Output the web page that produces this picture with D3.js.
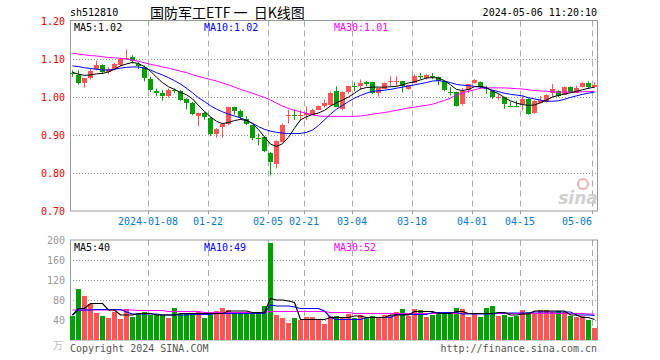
<!DOCTYPE html>
<html>
<head>
<meta charset="utf-8">
<script src="https://cdn.jsdelivr.net/npm/d3@7"></script>
<style>
  html, body { margin: 0; padding: 0; background: #fff; }
  svg text { font-family: "DejaVu Sans Mono", monospace; font-size: 10px; }
</style>
</head>
<body>
<div id="chart"></div>
<script>
// daily candles, 2023-12-19 .. 2024-05-06 (88 trading days)
const open  = [1.064,1.059,1.036,1.049,1.074,1.085,1.066,1.074,1.083,1.101,1.105,1.088,1.079,1.048,1.017,1.011,1.002,1.019,1.017,0.996,
               0.985,0.952,0.959,0.946,0.901,0.922,0.928,0.973,0.962,0.941,0.925,0.891,0.895,0.852,0.823,0.882,0.950,0.953,0.951,0.953,
               0.955,0.967,0.975,0.980,1.016,0.969,1.015,1.030,1.031,1.039,1.039,1.011,1.022,1.039,1.040,1.042,1.021,1.037,1.056,1.049,
               1.056,1.053,1.042,1.013,1.013,0.980,1.018,1.037,1.040,1.025,1.016,1.000,1.000,0.976,0.976,0.981,0.996,0.958,0.985,0.987,
               1.011,1.016,1.006,1.026,1.012,1.027,1.036,1.025];
const high  = [1.070,1.070,1.050,1.075,1.096,1.086,1.079,1.090,1.103,1.125,1.110,1.092,1.083,1.053,1.022,1.018,1.022,1.022,1.018,0.997,
               0.987,0.959,0.961,0.947,0.918,0.930,0.975,0.975,0.967,0.950,0.926,0.904,0.896,0.855,0.886,0.930,0.967,0.967,0.965,0.975,
               0.969,0.978,0.993,1.014,1.028,1.015,1.030,1.038,1.046,1.042,1.040,1.025,1.038,1.054,1.054,1.042,1.032,1.059,1.063,1.060,
               1.063,1.054,1.043,1.026,1.014,1.024,1.035,1.047,1.041,1.030,1.018,1.008,1.001,0.988,0.990,1.004,0.997,0.992,1.002,1.007,
               1.034,1.018,1.028,1.028,1.030,1.040,1.041,1.039];
const low   = [1.053,1.033,1.025,1.046,1.070,1.061,1.060,1.070,1.080,1.097,1.088,1.073,1.041,1.013,1.002,0.991,0.998,1.010,0.990,0.967,
               0.952,0.923,0.940,0.897,0.893,0.893,0.926,0.953,0.940,0.926,0.886,0.873,0.855,0.794,0.812,0.880,0.930,0.939,0.937,0.939,
               0.952,0.965,0.972,0.977,0.973,0.965,1.008,1.015,1.019,1.028,1.008,1.001,1.021,1.028,1.028,1.012,1.019,1.036,1.047,1.046,
               1.047,1.031,1.015,1.004,0.975,0.978,1.010,1.035,1.022,1.008,0.995,0.991,0.969,0.973,0.973,0.965,0.954,0.956,0.983,0.985,
               1.000,1.000,1.005,1.012,1.011,1.025,1.021,1.023];
const close = [1.063,1.038,1.050,1.068,1.085,1.066,1.075,1.086,1.099,1.103,1.095,1.082,1.049,1.018,1.013,1.004,1.019,1.016,0.994,0.985,
               0.956,0.959,0.948,0.904,0.915,0.930,0.974,0.962,0.946,0.928,0.891,0.889,0.857,0.828,0.883,0.927,0.952,0.952,0.953,0.958,
               0.967,0.977,0.983,1.011,0.975,1.014,1.030,1.028,1.038,1.033,1.010,1.024,1.038,1.041,1.042,1.028,1.031,1.056,1.054,1.057,
               1.054,1.042,1.018,1.011,0.977,1.015,1.035,1.044,1.027,1.024,1.000,1.001,0.982,0.975,0.975,0.994,0.956,0.989,0.992,1.006,
               1.022,1.004,1.027,1.014,1.025,1.038,1.025,1.031];
// volume, 万手
const volume = [48,102,88,72,54,48,44,56,42,62,46,52,56,50,50,50,44,64,52,54,
                52,56,44,50,58,64,60,54,52,56,54,52,68,194,50,44,34,44,40,46,
                46,42,32,48,48,46,52,44,50,44,48,44,50,50,56,62,48,62,60,46,
                50,56,54,56,64,62,46,54,46,64,68,48,50,46,48,60,56,52,60,60,
                56,58,56,48,46,48,40,24];

// moving averages as drawn on the chart
const ma5  = [1.065,1.060,1.057,1.058,1.061,1.062,1.066,1.073,1.082,1.087,1.091,1.088,1.080,1.068,1.052,1.038,1.027,1.020,1.012,1.006,
              0.995,0.978,0.962,0.948,0.936,0.930,0.933,0.938,0.941,0.938,0.930,0.914,0.895,0.876,0.870,0.877,0.894,0.918,0.940,0.948,
              0.954,0.958,0.965,0.976,0.985,0.992,1.000,1.010,1.021,1.025,1.026,1.026,1.026,1.027,1.028,1.032,1.037,1.040,1.045,1.050,
              1.051,1.050,1.043,1.032,1.020,1.017,1.020,1.027,1.028,1.025,1.015,1.009,0.998,0.990,0.984,0.980,0.978,0.979,0.985,0.992,
              1.000,1.004,1.008,1.011,1.015,1.019,1.023,1.026];
const ma10 = [1.082,1.080,1.077,1.075,1.073,1.071,1.071,1.073,1.076,1.078,1.079,1.079,1.076,1.071,1.064,1.058,1.051,1.043,1.034,1.023,
              1.011,0.998,0.988,0.977,0.968,0.961,0.955,0.950,0.945,0.939,0.931,0.922,0.915,0.910,0.907,0.905,0.904,0.904,0.904,0.907,
              0.913,0.925,0.940,0.955,0.968,0.978,0.988,0.997,1.004,1.010,1.015,1.016,1.018,1.020,1.023,1.026,1.029,1.032,1.035,1.038,
              1.042,1.043,1.041,1.038,1.033,1.031,1.030,1.028,1.026,1.023,1.018,1.014,1.010,1.007,1.005,1.003,0.998,0.995,0.992,0.989,
              0.989,0.990,0.994,0.999,1.003,1.007,1.010,1.013];
const ma30 = [1.115,1.113,1.111,1.109,1.108,1.106,1.104,1.103,1.102,1.100,1.097,1.094,1.090,1.086,1.083,1.079,1.076,1.072,1.068,1.064,
              1.059,1.054,1.050,1.046,1.042,1.037,1.032,1.026,1.020,1.015,1.010,1.004,0.999,0.992,0.984,0.976,0.970,0.965,0.961,0.957,
              0.953,0.950,0.949,0.949,0.949,0.949,0.949,0.949,0.950,0.952,0.955,0.957,0.959,0.962,0.965,0.968,0.971,0.973,0.976,0.978,
              0.981,0.986,0.991,0.997,1.005,1.011,1.015,1.019,1.023,1.024,1.024,1.024,1.024,1.023,1.022,1.021,1.019,1.017,1.016,1.015,
              1.014,1.013,1.013,1.013,1.013,1.014,1.014,1.015];
const vma5  = [50,63,63,73,73,73,60,60,50,50,50,53,53,53,50,50,50,50,53,53,
               53,53,53,53,53,53,58,58,58,58,55,55,55,83,80,80,78,75,41,41,
               41,41,41,45,45,45,45,48,48,45,45,45,45,50,50,50,50,57,57,57,
               57,53,53,53,57,57,53,53,53,53,53,55,55,50,50,52,52,58,58,58,
               58,58,58,50,50,45,45,41];
const vma10 = [50,60,60,60,61,61,61,61,61,56,52,52,52,52,52,50,50,50,50,50,
               51,51,51,51,53,53,53,53,53,53,53,53,53,70,68,68,68,66,63,63,
               63,63,58,45,41,41,41,41,41,45,45,45,45,45,51,51,51,51,51,51,
               55,55,55,55,55,52,52,52,52,52,52,54,54,54,54,54,54,56,56,56,
               56,56,56,56,50,50,50,49];
const vma30 = [60,60,60,60,60,60,60,60,60,60,60,59,59,59,59,59,57,57,57,57,
               57,57,55,55,55,55,55,55,55,55,55,55,55,57,57,57,57,57,57,57,
               57,57,57,55,55,55,55,53,53,53,53,53,53,53,53,53,53,53,53,53,
               53,53,53,53,53,53,53,53,53,53,53,53,53,53,53,53,53,53,53,53,
               53,53,53,53,53,53,52,52];

const dateTickIdx    = [13, 23, 33, 39, 47, 57, 67, 75, 87];
const dateTickLabels = ["2024-01-08", "01-22", "02-05", "02-21", "03-04", "03-18", "04-01", "04-15", "05-06"];
const priceTicks = [1.20, 1.10, 1.00, 0.90, 0.80, 0.70];
const volTicks   = [200, 160, 120, 80, 40];

const RED = "#ff5454", GREEN = "#00a000";
const W = 660, H = 360;
const left = 70, right = 598;
const pTop = 21, pBottom = 211;
const vTop = 240, vBottom = 340;

const svg = d3.select("#chart").append("svg")
  .attr("width", W)
  .attr("height", H);

const x = d3.scaleBand()
  .domain(d3.range(close.length))
  .range([left, right]);
const yP = d3.scaleLinear().domain([0.70, 1.20]).range([pBottom, pTop]);
const yV = d3.scaleLinear().domain([0, 200]).range([vBottom, vTop]);
const cx = i => x(i) + 2.5;

// header
svg.append("text").attr("x", 70).attr("y", 16).text("sh512810");
svg.append("text").attr("x", 150).attr("y", 18)
  .style("font-family", "'Noto Sans CJK SC'")
  .style("font-size", "14px")
  .attr("xml:space", "preserve")
  .style("white-space", "pre")
  .text("国防军工ETF 一  日K线图");
svg.append("text").attr("x", 597).attr("y", 16)
  .attr("text-anchor", "end")
  .text("2024-05-06 11:20:10");

// grid lines
function hGrid(scale, ticks) {
  svg.append("g").selectAll("line")
    .data(ticks)
    .enter().append("line")
    .attr("x1", left).attr("x2", right)
    .attr("y1", d => Math.round(scale(d)) + 0.5)
    .attr("y2", d => Math.round(scale(d)) + 0.5)
    .attr("stroke", "#999")
    .attr("stroke-dasharray", "1,2");
}
hGrid(yP, priceTicks.slice(1, -1));
hGrid(yV, volTicks.slice(1));

[[pTop - 0.5, pBottom], [vTop, vBottom]].forEach(([t, b]) => {
  svg.append("g").selectAll("line")
    .data(dateTickIdx)
    .enter().append("line")
    .attr("x1", d => x(d) + 0.5).attr("x2", d => x(d) + 0.5)
    .attr("y1", t).attr("y2", b)
    .attr("stroke", "#aaa")
    .attr("stroke-dasharray", "6,4");
});

// frames
[[pTop - 0.5, pBottom], [vTop, vBottom]].forEach(([t, b]) => {
  svg.append("rect")
    .attr("x", left + 0.5).attr("y", t)
    .attr("width", right - left - 1).attr("height", b - t)
    .attr("fill", "none")
    .attr("stroke", "#999");
});

// price axis labels
svg.append("g").selectAll("text")
  .data(priceTicks)
  .enter().append("text")
  .attr("x", 65).attr("y", d => yP(d) + 4)
  .attr("text-anchor", "end")
  .attr("fill", "#f00000")
  .text(d => d.toFixed(2));

svg.append("g").selectAll("text")
  .data(volTicks)
  .enter().append("text")
  .attr("x", 65).attr("y", d => yV(d) + 4)
  .attr("text-anchor", "end")
  .attr("fill", "#999")
  .text(d => d);

svg.append("text").attr("x", 63).attr("y", 349)
  .attr("text-anchor", "end")
  .attr("fill", "#bbb")
  .style("font-family", "'Noto Sans CJK SC'")
  .style("font-size", "10px")
  .text("万");

// date axis
const dateAxis = svg.append("g");
dateAxis.selectAll("line")
  .data(dateTickIdx)
  .enter().append("line")
  .attr("x1", d => x(d) + 0.5).attr("x2", d => x(d) + 0.5)
  .attr("y1", pBottom).attr("y2", pBottom + 3)
  .attr("stroke", "#999");
dateAxis.selectAll("text")
  .data(dateTickIdx)
  .enter().append("text")
  .attr("x", (d, i) => Math.min(x(d), right - 21))
  .attr("y", 225)
  .attr("text-anchor", "middle")
  .attr("fill", "#0a78c8")
  .text((d, i) => dateTickLabels[i]);

// watermark
svg.append("text").attr("x", 578).attr("y", 204)
  .attr("text-anchor", "middle")
  .attr("fill", "#d0d0d0")
  .style("font-family", "'DejaVu Sans'")
  .style("font-size", "17px")
  .style("font-weight", "bold")
  .style("font-style", "italic")
  .text("sina");
svg.append("circle").attr("cx", 583).attr("cy", 184).attr("r", 5)
  .attr("fill", "none").attr("stroke", "#e8b0b0").attr("stroke-width", 2);

// candles
const candles = svg.append("g").selectAll("g")
  .data(close.map((c, i) => ({ i, o: open[i], h: high[i], l: low[i], c })))
  .enter().append("g")
  .attr("fill", d => d.c >= d.o ? RED : GREEN)
  .attr("stroke", d => d.c >= d.o ? RED : GREEN);

candles.append("line")
  .attr("x1", d => cx(d.i)).attr("x2", d => cx(d.i))
  .attr("y1", d => yP(d.h)).attr("y2", d => yP(d.l));
candles.append("rect")
  .attr("stroke", "none")
  .attr("x", d => x(d.i))
  .attr("width", 5)
  .attr("y", d => Math.round(yP(Math.max(d.o, d.c))))
  .attr("height", d => Math.max(1, Math.round(Math.abs(yP(d.o) - yP(d.c)))));

// volume bars
svg.append("g").selectAll("rect")
  .data(volume)
  .enter().append("rect")
  .attr("x", (d, i) => x(i))
  .attr("width", 5)
  .attr("y", d => Math.round(yV(d)))
  .attr("height", d => vBottom - Math.round(yV(d)))
  .attr("fill", (d, i) => close[i] >= open[i] ? RED : GREEN);

// MA lines
const pLine = d3.line().x((d, i) => cx(i)).y(d => yP(d));
const vLine = d3.line().x((d, i) => cx(i)).y(d => yV(d));
[[ma30, "#ff00ff"], [ma10, "#0000ff"], [ma5, "#000"]].forEach(([s, col]) => {
  svg.append("path").attr("d", pLine(s)).attr("fill", "none").attr("stroke", col).attr("stroke-width", 1);
});
[[vma30, "#ff00ff"], [vma10, "#0000ff"], [vma5, "#000"]].forEach(([s, col]) => {
  svg.append("path").attr("d", vLine(s)).attr("fill", "none").attr("stroke", col).attr("stroke-width", 1.2);
});

// MA legends
const legends = [
  [74, 31, "#000", "MA5:1.02"], [204, 31, "#0000ff", "MA10:1.02"], [334, 31, "#ff00ff", "MA30:1.01"],
  [74, 251, "#000", "MA5:40"], [204, 251, "#0000ff", "MA10:49"], [334, 251, "#ff00ff", "MA30:52"]
];
svg.append("g").selectAll("text")
  .data(legends)
  .enter().append("text")
  .attr("x", d => d[0]).attr("y", d => d[1])
  .attr("fill", d => d[2])
  .text(d => d[3]);

// footer
svg.append("text").attr("x", 70).attr("y", 352).attr("fill", "#555").text("Copyright 2024 SINA.COM");
svg.append("text").attr("x", 597).attr("y", 352).attr("text-anchor", "end").attr("fill", "#555").text("http://finance.sina.com.cn");
</script>
</body>
</html>
